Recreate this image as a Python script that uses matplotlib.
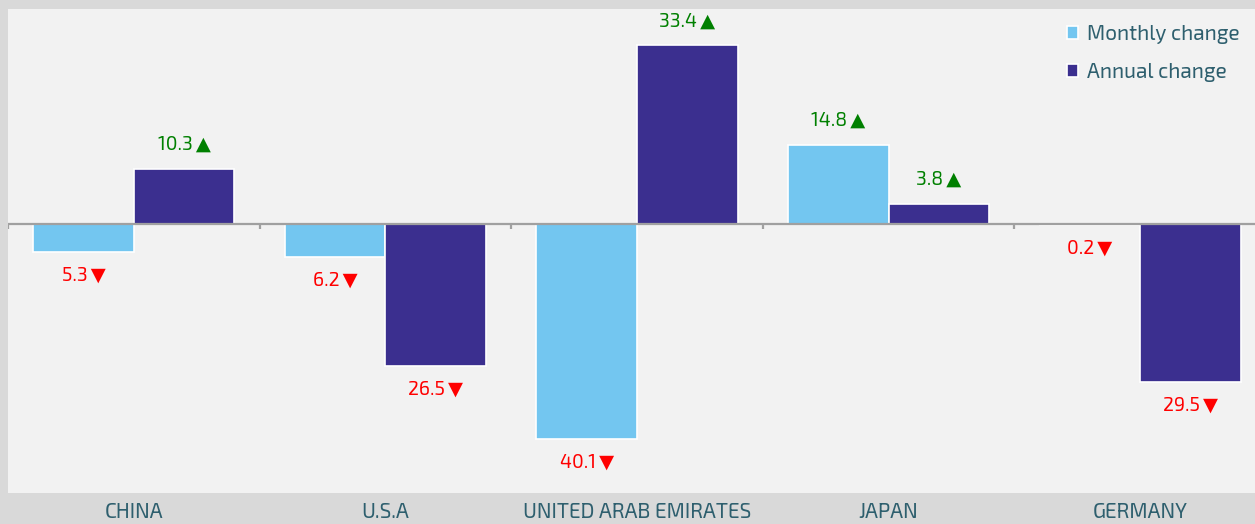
import matplotlib
matplotlib.use("Agg")
import matplotlib.pyplot as plt
import numpy as np
from matplotlib.font_manager import fontManager

categories = ["CHINA", "U.S.A", "UNITED ARAB EMIRATES", "JAPAN", "GERMANY"]
monthly = [-5.3, -6.2, -40.1, 14.8, -0.2]
annual = [10.3, -26.5, 33.4, 3.8, -29.5]
series_names = ["Monthly change", "Annual change"]

names = {f.name for f in fontManager.ttflist}
def pick(cands, default="DejaVu Sans"):
    for c in cands:
        if c in names:
            return c
    return default

cat_font = pick(["Exo 2", "Saira Semi Condensed", "Roboto Condensed"])
txt_font = pick(["Exo 2", "Roboto"])

c_month = "#73c6f0"
c_annual = "#3b2f8f"
txt_col = "#2e5f6e"

fig = plt.figure(figsize=(12.55, 5.24), dpi=100)
fig.patch.set_facecolor("#d9d9d9")
ax = fig.add_axes([8/1255, (524-493)/524, 1247/1255, (493-9)/524])
ax.set_facecolor("#f2f2f2")
for s in ax.spines.values():
    s.set_visible(False)

x = np.arange(len(categories))
w = 0.4
b1 = ax.bar(x - w/2, monthly, w, color=c_month, edgecolor="white", linewidth=1.2, label=series_names[0], zorder=2)
b2 = ax.bar(x + w/2, annual, w, color=c_annual, edgecolor="white", linewidth=1.2, label=series_names[1], zorder=2)

ax.axhline(0, color="#a0a0a0", lw=1.6, zorder=3)
bounds = np.arange(len(categories) + 1) - 0.5
ax.vlines(bounds, 0, -1.0, color="#a0a0a0", lw=1.6, zorder=3)

ax.set_xlim(-0.5, 4.456)
ax.set_ylim(-50.2, 40.1)
ax.set_yticks([])
ax.set_xticks(x)
ax.set_xticklabels(categories, fontsize=15, color=txt_col, family=[cat_font, "DejaVu Sans"])
ax.tick_params(axis="x", length=0, pad=7.5)

for bars, vals in ((b1, monthly), (b2, annual)):
    for rect, v in zip(bars, vals):
        cx = rect.get_x() + rect.get_width()/2
        if v >= 0:
            ax.annotate(f"{abs(v):.1f}\u2009\u25B2", (cx, v), xytext=(0, 10.5), textcoords="offset points",
                        ha="center", va="bottom", color="#008000", fontsize=14, zorder=4,
                        family=[txt_font, "DejaVu Sans"])
        else:
            ax.annotate(f"{abs(v):.1f}\u2009\u25BC", (cx, v), xytext=(0, -10.5), textcoords="offset points",
                        ha="center", va="top", color="#ff0000", fontsize=14, zorder=4,
                        family=[txt_font, "DejaVu Sans"])

leg = ax.legend(loc="upper right", bbox_to_anchor=(1.0, 1.0), frameon=False,
                prop={"family": [txt_font, "DejaVu Sans"], "size": 15},
                handlelength=0.55, handleheight=0.55, handletextpad=0.4, labelspacing=0.92,
                borderaxespad=0.35, labelcolor=txt_col)

fig.savefig("out.png", dpi=100, facecolor=fig.get_facecolor())
